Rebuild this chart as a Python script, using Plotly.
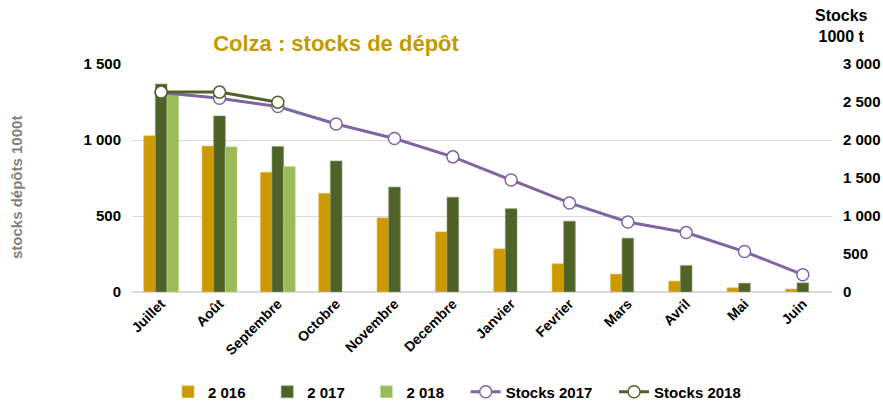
import plotly.graph_objects as go

months = ["Juillet", "Août", "Septembre", "Octobre", "Novembre", "Decembre",
          "Janvier", "Fevrier", "Mars", "Avril", "Mai", "Juin"]

depot_2016 = [1028, 960, 788, 650, 488, 396, 284, 186, 118, 72, 28, 20]
depot_2017 = [1368, 1158, 958, 862, 690, 624, 548, 466, 354, 174, 58, 60]
depot_2018 = [1300, 955, 825, None, None, None, None, None, None, None, None, None]

stocks_2017 = [2625, 2550, 2440, 2210, 2020, 1778, 1474, 1172, 922, 782, 532, 228]
stocks_2018 = [2630, 2630, 2498, None, None, None, None, None, None, None, None, None]

FAMILY = "Liberation Sans, Arial, sans-serif"
bold = dict(family=FAMILY, weight="bold", color="#000000")
pad = "\u00a0" * 4  # extra room between legend entries

fig = go.Figure()

fig.add_trace(go.Bar(x=months, y=depot_2016, name="2 016" + pad, marker=dict(color="#CC9900", line=dict(color="#E6C766", width=0.6))))
fig.add_trace(go.Bar(x=months, y=depot_2017, name="2 017" + pad, marker=dict(color="#4F6228", line=dict(color="#8A9A6E", width=0.6))))
fig.add_trace(go.Bar(x=months, y=depot_2018, name="2 018" + pad, marker=dict(color="#9BBB59", line=dict(color="#C6DA9E", width=0.6))))

fig.add_trace(go.Scatter(
    x=months, y=stocks_2017, name="Stocks 2017" + pad, yaxis="y2", mode="lines+markers",
    line=dict(color="#8064A2", width=3),
    marker=dict(size=12, color="white", line=dict(color="#8064A2", width=1.5)),
))
fig.add_trace(go.Scatter(
    x=months, y=stocks_2018, name="Stocks 2018", yaxis="y2", mode="lines+markers",
    line=dict(color="#4F6228", width=3),
    marker=dict(size=12, color="white", line=dict(color="#4F6228", width=1.5)),
))

fig.update_layout(
    width=883,
    height=405,
    template=None,
    paper_bgcolor="white",
    plot_bgcolor="white",
    separators=", ",
    font=dict(family=FAMILY, size=14, color="#000000"),
    margin=dict(l=132, r=51, t=64, b=113),
    barmode="group",
    bargap=0.4,
    bargroupgap=0,
    title=dict(
        text="Colza : stocks de dépôt",
        font=dict(family=FAMILY, size=22, weight="bold", color="#C09A00"),
        x=336 / 883, xanchor="center", xref="container",
        y=1 - 43 / 405, yanchor="middle", yref="container",
    ),
    xaxis=dict(
        range=[-0.5, 11.5],
        tickangle=-45,
        tickfont=dict(size=14, **bold),
        showgrid=False,
        showline=False,
        ticks="",
        automargin=False,
    ),
    yaxis=dict(
        range=[0, 1500],
        dtick=500,
        tickformat=",d",
        tickfont=dict(size=15, **bold),
        gridcolor="#D9D9D9",
        gridwidth=1,
        zeroline=True,
        zerolinecolor="#D9D9D9",
        zerolinewidth=1.5,
        ticklabelstandoff=10,
        automargin=False,
    ),
    yaxis2=dict(
        overlaying="y",
        side="right",
        range=[0, 3000],
        dtick=500,
        tickformat=",d",
        tickfont=dict(size=15, **bold),
        showgrid=False,
        zeroline=False,
        ticklabelstandoff=10,
        automargin=False,
    ),
    legend=dict(
        orientation="h",
        xref="container", x=457 / 883, xanchor="center",
        yref="container", y=1 - 392 / 405, yanchor="middle",
        font=dict(size=15, **bold),
        itemwidth=30,
        tracegroupgap=0,
    ),
    annotations=[
        dict(
            text="stocks dépôts 1000t", textangle=-90,
            xref="paper", yref="paper", x=(16 - 132) / 700, y=(292 - 188) / 228,
            xanchor="center", yanchor="middle",
            showarrow=False,
            font=dict(family=FAMILY, size=15, weight="bold", color="#7F7F7F"),
        ),
        dict(
            text="Stocks<br>1000 t",
            xref="paper", yref="paper", x=(841 - 132) / 700, y=(292 - 26) / 228,
            xanchor="center", yanchor="middle",
            showarrow=False,
            font=dict(family=FAMILY, size=16, weight="bold", color="#000000"),
        ),
    ],
)

fig.write_html(
    "out.html",
    config={"displayModeBar": False},
    post_script="document.body.style.margin='0';",
)
